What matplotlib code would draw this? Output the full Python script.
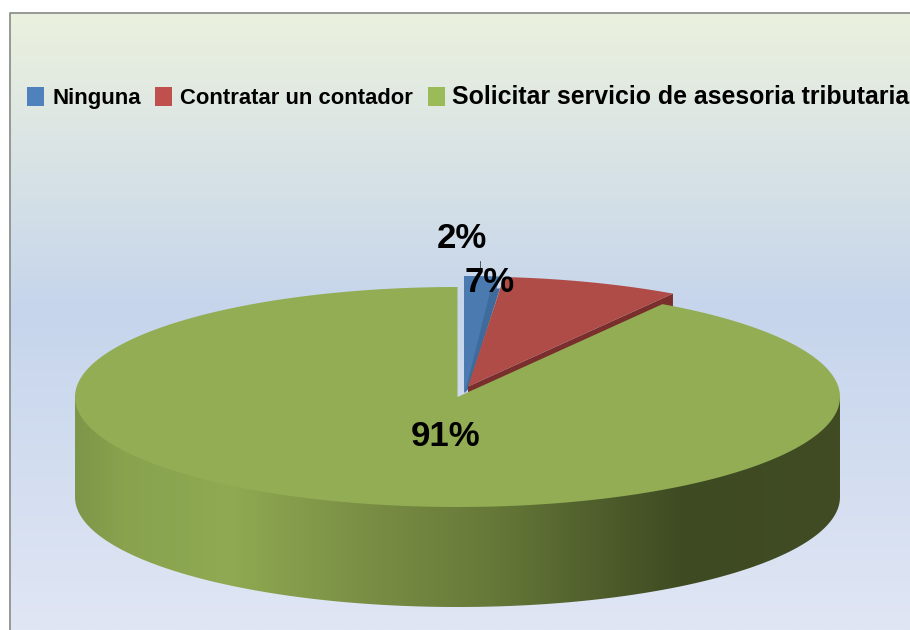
import numpy as np
import matplotlib
matplotlib.use('Agg')
import matplotlib.pyplot as plt
from matplotlib.colors import LinearSegmentedColormap
from matplotlib.patches import Polygon, Rectangle

categories = ['Ninguna', 'Contratar un contador', 'Solicitar servicio de asesoria tributaria']
labels = ['2%', '7%', '91%']
# slice shares as they are drawn in the picture (not the rounded labels)
shares = [1.5, 7.5, 91.0]
colors = ['#4A7AB0', '#B04C48', '#92AD54']
legend_colors = ['#4F81BD', '#C0504D', '#9BBB59']

plt.rcParams['font.family'] = ['Liberation Sans', 'DejaVu Sans']
plt.rcParams['font.weight'] = 'bold'

fig = plt.figure(figsize=(9.1, 6.3), dpi=100)
ax = fig.add_axes([0, 0, 1, 1])
ax.axis('off')

# background
bg = LinearSegmentedColormap.from_list('bg', [(0, '#EBF1DE'), (0.48, '#C6D5EC'), (1, '#E0E6F4')])
ax.imshow(np.linspace(0, 1, 256).reshape(-1, 1), cmap=bg, extent=[10, 910, 630, 13], aspect='auto', zorder=0)
ax.plot([10, 10, 910], [630, 13, 13], color='#8E928E', lw=1.3, zorder=1)

rx, ry, depth = 382.5, 110, 100
cx, cy = 457.5, 397


def rim(x0, y0, a0, a1, n=200):
    # angles clockwise from the top, in percent of the pie
    t = np.radians(np.linspace(a0, a1, n) * 3.6)
    return np.column_stack([x0 + rx * np.sin(t), y0 - ry * np.cos(t)])


a1 = shares[0]
a2 = shares[0] + shares[1]

# blue slice, moved a little out of the pie
bx, by = 464, 386
blue = np.vstack([[[bx, by + 7]], rim(bx, by, 0, a1, 30), [[bx + 4, by + 3]]])
ax.add_patch(Polygon(blue, closed=True, fc=colors[0], ec='none', zorder=2))
blue_edge = rim(bx, by, a1, a1, 1)[0]
ax.add_patch(Polygon([[blue_edge[0] - 9, blue_edge[1] + 12], [blue_edge[0], blue_edge[1] + 12],
                      [bx + 4, by + 3], [bx + 1, by + 7]], closed=True, fc='#3F6A9C', ec='none', zorder=2))

# red slice
rx0, ry0 = 468, 386.5
red_rim = rim(rx0, ry0, a1, a2)
end = red_rim[-1]
ax.add_patch(Polygon([[rx0, ry0 + 6], [rx0, ry0], end, [end[0], end[1] + 14]], closed=True, fc='#7A2F2D', ec='none', zorder=3))
ax.add_patch(Polygon(np.vstack([[[rx0, ry0]], red_rim]), closed=True, fc=colors[1], ec='none', zorder=3))

# green side wall, shaded from left to right
side_cm = LinearSegmentedColormap.from_list('side', [
    (0, '#7E9648'), (0.06, '#88A24E'), (0.2, '#8FAA52'), (0.36, '#7C9146'), (0.55, '#667838'),
    (0.68, '#505F2C'), (0.8, '#3E4A22'), (1, '#414C25')])
im = ax.imshow(np.linspace(0, 1, 256).reshape(1, -1), cmap=side_cm, aspect='auto',
               extent=[cx - rx, cx + rx, cy + ry + depth, cy - 10], zorder=4)
u = np.linspace(np.pi, 0, 300)
bottom = np.column_stack([cx + rx * np.cos(u), cy + depth + ry * np.sin(u)])
side = np.vstack([[[cx - rx, cy]], bottom, [[cx + rx, cy]]])
clip = Polygon(side, closed=True, transform=ax.transData, fc='none', ec='none')
ax.add_patch(clip)
im.set_clip_path(clip)

# green slice top
green = np.vstack([[[cx, cy]], rim(cx, cy, a2, 100, 400)])
ax.add_patch(Polygon(green, closed=True, fc=colors[2], ec='none', zorder=5))

# data labels
label_pos = [(462, 238), (490, 282), (446, 436)]
for lab, (x, y) in zip(labels, label_pos):
    ax.text(x, y, lab, ha='center', va='center', fontsize=25, color='black', zorder=7)
ax.plot([480, 480], [261, 270], color='#404040', lw=0.6, zorder=6)

# legend
square_x = [27, 155, 428]
text_x = [52, 180, 452]
text_size = [16, 15.8, 17.9]
for name, col, sx, tx, fs in zip(categories, legend_colors, square_x, text_x, text_size):
    ax.add_patch(Rectangle((sx, 87), 17, 19, fc=col, ec='none', zorder=6))
    ax.text(tx, 104, name, ha='left', va='baseline', fontsize=fs, color='black', zorder=7)

ax.set_xlim(0, 910)
ax.set_ylim(630, 0)
fig.savefig('out.png', dpi=100)
